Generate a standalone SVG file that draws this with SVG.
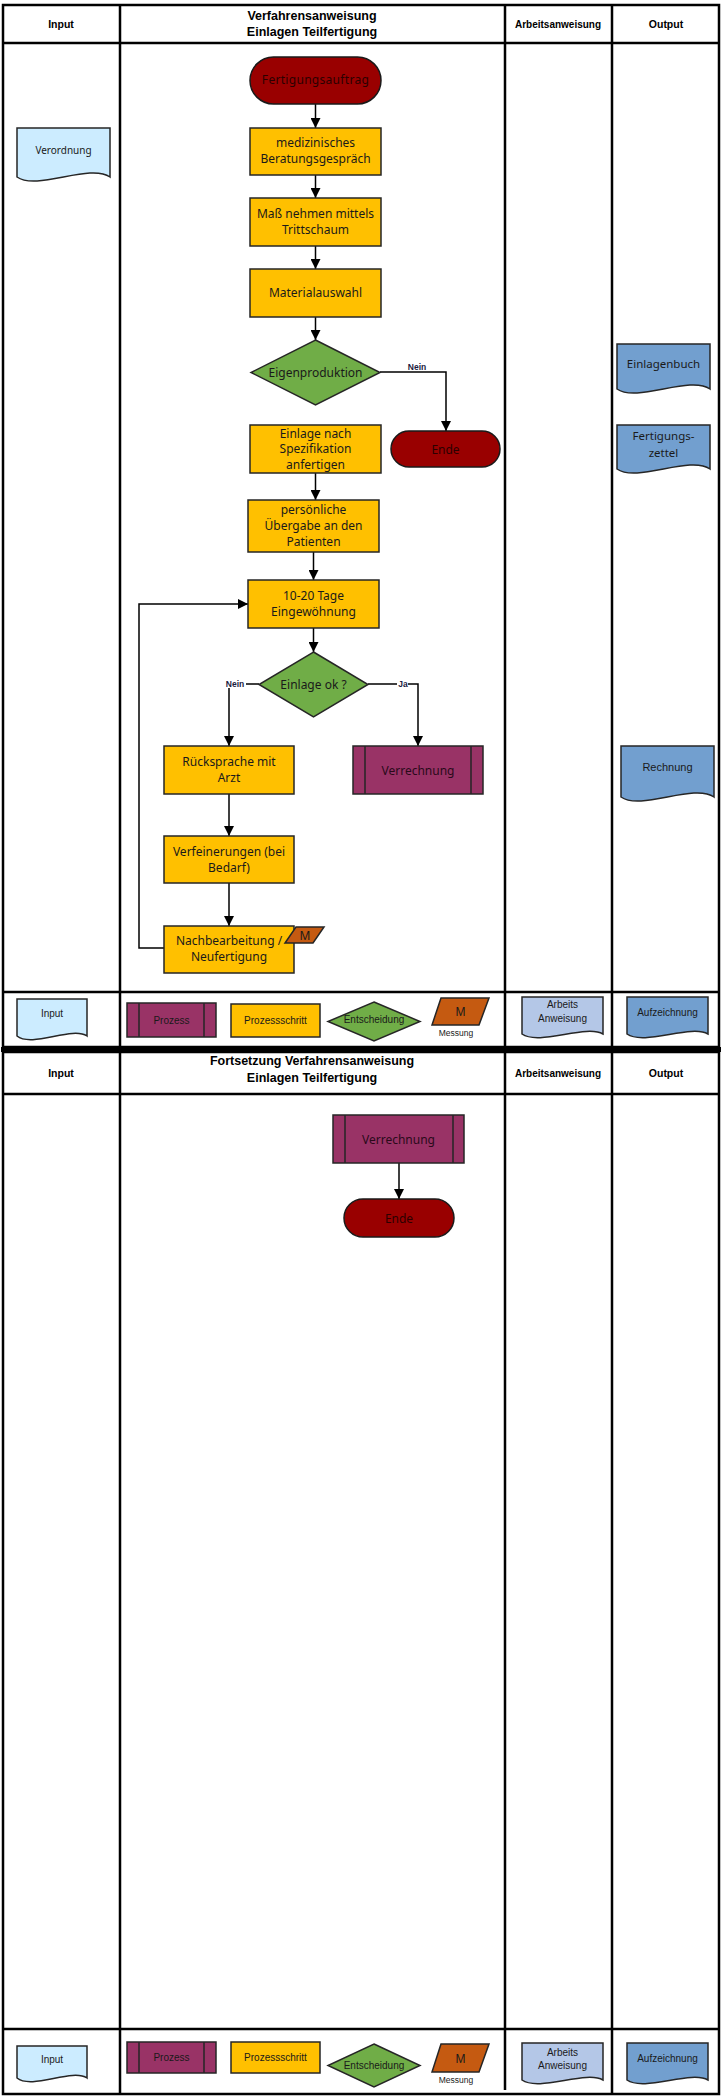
<svg xmlns="http://www.w3.org/2000/svg" width="722" height="2097" viewBox="0 0 722 2097">
<style>
.frame{fill:none;stroke:#000;stroke-width:2.5}
.thick{stroke:#000;stroke-width:5}
.hd{font-family:"Liberation Sans",Arial,sans-serif;font-weight:bold;fill:#000;text-anchor:middle}
.t{font-family:"Noto Sans","DejaVu Sans",sans-serif;font-size:12px;fill:#1a1a1a;text-anchor:middle}
.lg{font-family:"Liberation Sans",Arial,sans-serif;font-size:10px;fill:#1a1a1a;text-anchor:middle}
.term{fill:#990000;stroke:#1a1a1a;stroke-width:1.5}
.proc{fill:#FFC000;stroke:#262626;stroke-width:1.5}
.dec{fill:#70AD47;stroke:#262626;stroke-width:1.5}
.pre{fill:#993366;stroke:#262626;stroke-width:1.5}
.meas{fill:#C55A11;stroke:#262626;stroke-width:1.5}
.din{fill:#CCECFF;stroke:#262626;stroke-width:1.5}
.daw{fill:#B4C7E7;stroke:#262626;stroke-width:1.5}
.dout{fill:#729FCF;stroke:#262626;stroke-width:1.5}
.conn{fill:none;stroke:#000;stroke-width:1.5}
.lbl{font-family:"Liberation Sans",Arial,sans-serif;font-size:8.5px;font-weight:bold;fill:#1a1a40;text-anchor:middle}
</style>
<defs>
<marker id="ah" viewBox="0 0 10 10" refX="10" refY="5" markerWidth="10" markerHeight="10" markerUnits="userSpaceOnUse" orient="auto">
<path d="M0,0 L10,5 L0,10 z" fill="#000"/>
</marker>
</defs>

<!-- Section 1 frame -->
<g id="frame1">
<rect x="3" y="5" width="716" height="1042" class="frame"/>
<line x1="3" y1="43" x2="719" y2="43" class="frame"/>
<line x1="3" y1="992" x2="719" y2="992" class="frame"/>
<line x1="120" y1="5" x2="120" y2="1047" class="frame"/>
<line x1="505" y1="5" x2="505" y2="1047" class="frame"/>
<line x1="612" y1="5" x2="612" y2="1047" class="frame"/>
<line x1="1" y1="1049.5" x2="721" y2="1049.5" class="thick"/>
<text x="61" y="28" class="hd" font-size="10.5">Input</text>
<text x="312" y="20" class="hd" font-size="12.5">Verfahrensanweisung</text>
<text x="312" y="36" class="hd" font-size="12.5">Einlagen Teilfertigung</text>
<text x="558" y="28" class="hd" font-size="10">Arbeitsanweisung</text>
<text x="666" y="28" class="hd" font-size="10.5">Output</text>
</g>

<!-- Section 2 frame -->
<g id="frame2">
<rect x="3" y="1052" width="716" height="1042" class="frame"/>
<line x1="3" y1="1094" x2="719" y2="1094" class="frame"/>
<line x1="3" y1="2029" x2="719" y2="2029" class="frame"/>
<line x1="120" y1="1052" x2="120" y2="2094" class="frame"/>
<line x1="505" y1="1052" x2="505" y2="2090" class="frame"/>
<line x1="612" y1="1052" x2="612" y2="2094" class="frame"/>
<text x="61" y="1077" class="hd" font-size="10.5">Input</text>
<text x="312" y="1065" class="hd" font-size="12.5">Fortsetzung Verfahrensanweisung</text>
<text x="312" y="1082" class="hd" font-size="12.5">Einlagen Teilfertigung</text>
<text x="558" y="1077" class="hd" font-size="10">Arbeitsanweisung</text>
<text x="666" y="1077" class="hd" font-size="10.5">Output</text>
</g>

<!-- Connectors -->
<g id="connectors">
<path d="M315.5,104 V128" class="conn" marker-end="url(#ah)"/>
<path d="M315.5,175 V198" class="conn" marker-end="url(#ah)"/>
<path d="M315.5,246 V269" class="conn" marker-end="url(#ah)"/>
<path d="M315.5,317 V340" class="conn" marker-end="url(#ah)"/>
<path d="M380,372 H446 V431" class="conn" marker-end="url(#ah)"/>
<path d="M315.5,473 V500" class="conn" marker-end="url(#ah)"/>
<path d="M313.5,552 V580" class="conn" marker-end="url(#ah)"/>
<path d="M313.5,628 V652" class="conn" marker-end="url(#ah)"/>
<path d="M259,684 H229 V746" class="conn" marker-end="url(#ah)"/>
<path d="M368,684 H418 V746" class="conn" marker-end="url(#ah)"/>
<path d="M229,794 V836" class="conn" marker-end="url(#ah)"/>
<path d="M229,883 V926" class="conn" marker-end="url(#ah)"/>
<path d="M164,948 H139 V604 H248" class="conn" marker-end="url(#ah)"/>
<path d="M399,1163 V1199" class="conn" marker-end="url(#ah)"/>
<rect x="406" y="362" width="22" height="9" fill="#fff"/>
<text x="417" y="369.5" class="lbl">Nein</text>
<rect x="224" y="679" width="22" height="9" fill="#fff"/>
<text x="235" y="687" class="lbl">Nein</text>
<rect x="397" y="679" width="11" height="9" fill="#fff"/>
<text x="403" y="687" class="lbl">Ja</text>
</g>

<!-- Nodes section 1 -->
<g id="n_fertigungsauftrag">
<rect x="250" y="57" width="131" height="47" rx="23.5" class="term"/>
<text x="315.5" y="84" class="t" style="fill:#2b0000" letter-spacing="0.3">Fertigungsauftrag</text>
</g>
<g id="n_verordnung">
<path d="M17,128 H110 V177 C90,163 37,191 17,177 Z" class="din"/>
<text x="63.5" y="154" class="t" style="font-size:10px">Verordnung</text>
</g>
<g id="n_beratung">
<rect x="250" y="128" width="131" height="47" class="proc"/>
<text x="315.5" y="147" class="t">medizinisches</text>
<text x="315.5" y="163" class="t">Beratungsgespräch</text>
</g>
<g id="n_mass">
<rect x="250" y="198" width="131" height="48" class="proc"/>
<text x="315.5" y="218" class="t">Maß nehmen mittels</text>
<text x="315.5" y="234" class="t">Trittschaum</text>
</g>
<g id="n_material">
<rect x="250" y="269" width="131" height="48" class="proc"/>
<text x="315.5" y="297" class="t">Materialauswahl</text>
</g>
<g id="n_eigenproduktion">
<path d="M315.5,340 L380,372.5 L315.5,405 L251,372.5 Z" class="dec"/>
<text x="315.5" y="376.5" class="t">Eigenproduktion</text>
</g>
<g id="n_ende1">
<rect x="391" y="431" width="109" height="36" rx="18" class="term"/>
<text x="445.5" y="453.5" class="t" style="fill:#2b0000">Ende</text>
</g>
<g id="n_einlage">
<rect x="250" y="425" width="131" height="48" class="proc"/>
<text x="315.5" y="437.5" class="t">Einlage nach</text>
<text x="315.5" y="453" class="t">Spezifikation</text>
<text x="315.5" y="468.5" class="t">anfertigen</text>
</g>
<g id="n_uebergabe">
<rect x="248" y="500" width="131" height="52" class="proc"/>
<text x="313.5" y="513.5" class="t">persönliche</text>
<text x="313.5" y="529.5" class="t">Übergabe an den</text>
<text x="313.5" y="545.5" class="t">Patienten</text>
</g>
<g id="n_eingewoehnung">
<rect x="248" y="580" width="131" height="48" class="proc"/>
<text x="313.5" y="599.5" class="t">10-20 Tage</text>
<text x="313.5" y="615.5" class="t">Eingewöhnung</text>
</g>
<g id="n_einlageok">
<path d="M313.5,652 L368,684.5 L313.5,717 L259,684.5 Z" class="dec"/>
<text x="313.5" y="688.5" class="t">Einlage ok ?</text>
</g>
<g id="n_ruecksprache">
<rect x="164" y="746" width="130" height="48" class="proc"/>
<text x="229" y="765.5" class="t">Rücksprache mit</text>
<text x="229" y="781.5" class="t">Arzt</text>
</g>
<g id="n_verrechnung1">
<rect x="353" y="746" width="130" height="48" class="pre"/>
<line x1="365" y1="746" x2="365" y2="794" class="pre"/>
<line x1="471" y1="746" x2="471" y2="794" class="pre"/>
<text x="418" y="774.5" class="t" style="fill:#2a0a1a">Verrechnung</text>
</g>
<g id="n_verfeinerungen">
<rect x="164" y="836" width="130" height="47" class="proc"/>
<text x="229" y="855.5" class="t">Verfeinerungen (bei</text>
<text x="229" y="871.5" class="t">Bedarf)</text>
</g>
<g id="n_nachbearbeitung">
<rect x="164" y="926" width="130" height="47" class="proc"/>
<text x="229" y="944.5" class="t">Nachbearbeitung /</text>
<text x="229" y="960.5" class="t">Neufertigung</text>
<path d="M296,927 H324 L313,943 H285 Z" class="meas"/>
<text x="305" y="940" class="t" style="font-size:12px;fill:#1a1a1a">M</text>
</g>
<g id="n_einlagenbuch">
<path d="M617,344 H710 V389 C690,375 637,403 617,389 Z" class="dout"/>
<text x="663.5" y="368" class="t" style="font-size:11.5px">Einlagenbuch</text>
</g>
<g id="n_fertigungszettel">
<path d="M617,425 H710 V469 C690,455 637,483 617,469 Z" class="dout"/>
<text x="663.5" y="440" class="t" style="font-size:11.5px">Fertigungs-</text>
<text x="663.5" y="457" class="t" style="font-size:11.5px">zettel</text>
</g>
<g id="n_rechnung">
<path d="M621,746 H714 V797 C694,783 641,811 621,797 Z" class="dout"/>
<text x="667.5" y="771" class="lg" style="font-size:11px">Rechnung</text>
</g>

<!-- Legend 1 -->
<g id="legend1">
<path d="M17,999 H87 V1036 C72,1026 32,1048 17,1036 Z" class="din"/>
<text x="52" y="1017" class="lg">Input</text>
<rect x="127" y="1003" width="89" height="34" class="pre"/>
<line x1="139" y1="1003" x2="139" y2="1037" class="pre"/>
<line x1="204" y1="1003" x2="204" y2="1037" class="pre"/>
<text x="171.5" y="1024" class="lg">Prozess</text>
<rect x="231" y="1004" width="89" height="33" class="proc"/>
<text x="275.5" y="1024" class="lg">Prozessschritt</text>
<path d="M374,1002 L420,1021.5 L374,1041 L328,1021.5 Z" class="dec"/>
<text x="374" y="1023" class="lg">Entscheidung</text>
<path d="M441,998 H489 L479,1025 H432 Z" class="meas"/>
<text x="460.5" y="1016" class="lg" style="font-size:12px">M</text>
<text x="456" y="1036" class="lg" style="font-size:8.5px">Messung</text>
<path d="M522,997 H603 V1034 C586,1024 539,1046 522,1034 Z" class="daw"/>
<text x="562.5" y="1008" class="lg">Arbeits</text>
<text x="562.5" y="1022" class="lg">Anweisung</text>
<path d="M627,997 H708 V1034 C691,1024 644,1046 627,1034 Z" class="dout"/>
<text x="667.5" y="1016" class="lg">Aufzeichnung</text>
</g>

<!-- Nodes section 2 -->
<g id="n_verrechnung2">
<rect x="333" y="1115" width="131" height="48" class="pre"/>
<line x1="345" y1="1115" x2="345" y2="1163" class="pre"/>
<line x1="453" y1="1115" x2="453" y2="1163" class="pre"/>
<text x="398.5" y="1143.5" class="t" style="fill:#2a0a1a">Verrechnung</text>
</g>
<g id="n_ende2">
<rect x="344" y="1199" width="110" height="38" rx="19" class="term"/>
<text x="399" y="1222.5" class="t" style="fill:#2b0000">Ende</text>
</g>

<!-- Legend 2 -->
<g id="legend2">
<path d="M17,2046 H87 V2078 C72,2068 32,2090 17,2078 Z" class="din"/>
<text x="52" y="2063" class="lg">Input</text>
<rect x="127" y="2042" width="89" height="31" class="pre"/>
<line x1="139" y1="2042" x2="139" y2="2073" class="pre"/>
<line x1="204" y1="2042" x2="204" y2="2073" class="pre"/>
<text x="171.5" y="2061" class="lg">Prozess</text>
<rect x="231" y="2042" width="89" height="31" class="proc"/>
<text x="275.5" y="2061" class="lg">Prozessschritt</text>
<path d="M374,2044 L420,2065.5 L374,2087 L328,2065.5 Z" class="dec"/>
<text x="374" y="2069" class="lg">Entscheidung</text>
<path d="M441,2044 H489 L479,2072 H432 Z" class="meas"/>
<text x="460.5" y="2063" class="lg" style="font-size:12px">M</text>
<text x="456" y="2083" class="lg" style="font-size:8.5px">Messung</text>
<path d="M522,2043 H603 V2080 C586,2070 539,2092 522,2080 Z" class="daw"/>
<text x="562.5" y="2056" class="lg">Arbeits</text>
<text x="562.5" y="2069" class="lg">Anweisung</text>
<path d="M627,2043 H708 V2080 C691,2070 644,2092 627,2080 Z" class="dout"/>
<text x="667.5" y="2062" class="lg">Aufzeichnung</text>
</g>
</svg>
